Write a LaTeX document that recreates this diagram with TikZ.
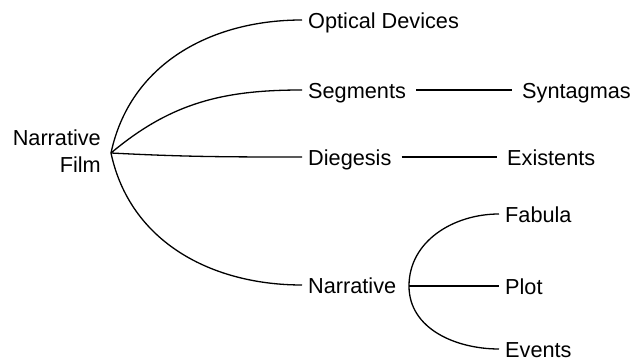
\documentclass[tikz,border=0pt]{standalone}
\usepackage{fontspec}
\setmainfont{Liberation Sans}
\usepackage{tikz}
\usetikzlibrary{calc}
\tikzstyle{leaf} = [anchor=west, inner xsep=6pt, inner ysep=0pt, text height=17.5pt, text depth=0pt]
\tikzstyle{link} = [line width=1.3pt]

\begin{document}
\begin{tikzpicture}[x=1pt, y=1pt, font=\fontsize{21.7}{27}\selectfont]
        \useasboundingbox (0,0) rectangle (630,361);
        \node (film) [anchor=east, align=right, inner sep=0pt] at (101,209.5) {Narrative\\Film};
        \coordinate (root) at (111,208);
        \node (optical) [leaf] at (302,341) {Optical Devices};
        \node (segments) [leaf] at (302,271) {Segments};
        \node (diegesis) [leaf] at (302,204) {Diegesis};
        \node (narrative) [leaf] at (302,76) {Narrative};
        \node (syntagmas) [leaf] at (516,271) {Syntagmas};
        \node (existents) [leaf] at (501,204) {Existents};
        \node (fabula) [leaf] at (499,147) {Fabula};
        \node (plot) [leaf] at (499,75) {Plot};
        \node (events) [leaf] at (499,12) {Events};
        \coordinate (fork) at (409,75);
        \draw [link] (root) to[out=78, in=180] (optical.west);
        \draw [link] (root) to[out=40, in=180] (segments.west);
        \draw [link] (root) to[out=-3, in=180] (diegesis.west);
        \draw [link] (root) to[out=-78, in=180] (narrative.west);
        \draw [link, shorten <=4pt, shorten >=4pt] (segments.east) -- (syntagmas.west);
        \draw [link, shorten <=4pt, shorten >=4pt] (diegesis.east) -- (existents.west);
        \draw [link] (fork) to[out=90, in=180] (fabula.west);
        \draw [link] (fork) -- (plot.west);
        \draw [link] (fork) to[out=-90, in=180] (events.west);
    \end{tikzpicture}
\end{document}
